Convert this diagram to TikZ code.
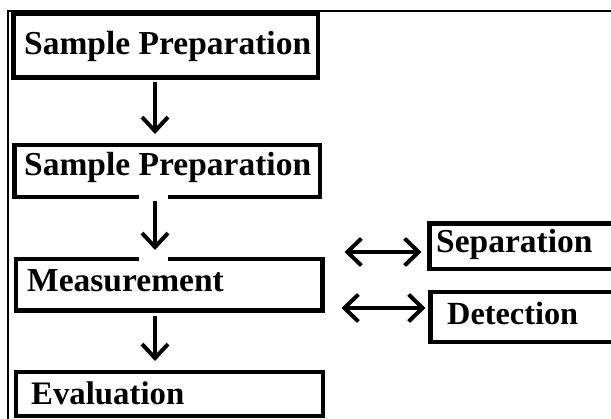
\documentclass[tikz,border=0pt]{standalone}
\usepackage{fontspec}
\setmainfont{Liberation Serif}
\usetikzlibrary{arrows.meta}
\tikzset{
  box/.style={draw=black, line width=4.2pt, fill=white, rectangle, inner sep=0pt, outer sep=0pt},
  lbl/.style={anchor=base west, inner sep=0pt, font=\fontsize{33.5}{36}\selectfont\bfseries},
  tipv/.style={-{Straight Barb[length=14pt,width=26pt,line width=4pt]}},
  arr/.style={line width=3.4pt, tipv},
  darr/.style={line width=3.4pt, {Straight Barb[length=14pt,width=27pt,line width=4pt]}-{Straight Barb[length=14pt,width=27pt,line width=4pt]}},
  frame/.style={line width=1.8pt},
  gap/.style={white, line width=7pt}
}
\begin{document}
\begin{tikzpicture}[x=1pt,y=-1pt]
\useasboundingbox (0,0) rectangle (611,419);
\clip (0,0) rectangle (611,419);
\fill[white] (0,0) rectangle (611,419);
% outer frame
\coordinate (fbl) at (8,419);
\coordinate (ftl) at (8,11);
\coordinate (ftr) at (612,11);
\draw[frame] (fbl) -- (ftl) -- (ftr);
% boxes
\node[box, minimum width=304.5pt, minimum height=64pt] (b1) at (165.75,45.5) {};
\node[box, minimum width=305.5pt, minimum height=52pt] (b2) at (167.25,171) {};
\node[box, minimum width=306.5pt, minimum height=51.5pt] (b3) at (169.25,284.75) {};
\node[box, minimum width=307pt, minimum height=44pt] (b4) at (169.5,394) {};
\node[box, minimum width=185.5pt, minimum height=45.5pt] (sep) at (522.25,246.25) {};
\node[box, minimum width=184.5pt, minimum height=50pt] (det) at (522.75,317) {};
% labels
\node[lbl] (t1) at (24,55) {Sample Preparation};
\node[lbl] (t2) at (24,176) {Sample Preparation};
\node[lbl] (t3) at (27,292) {Measurement};
\node[lbl, font=\fontsize{32.8}{36}\selectfont\bfseries] (t4) at (31,405) {Evaluation};
\node[lbl] (t5) at (436,253) {Separation};
\node[lbl, font=\fontsize{32.3}{36}\selectfont\bfseries] (t6) at (447,325) {Detection};
% arrow positions
\coordinate (ax) at (155,0);
\coordinate (g1) at (139,0);
\coordinate (g2) at (168,0);
\coordinate (a1) at (0,252);
\coordinate (a2) at (0,308);
% white gaps in borders around second arrow
\draw[gap] (b2.south -| g1) -- (b2.south -| g2);
\draw[gap] (b3.north -| g1) -- (b3.north -| g2);
% connectors
\draw[arr, shorten <=5pt, shorten >=11pt] (b1.south -| ax) -- (b2.north -| ax);
\draw[arr, shorten <=4pt, shorten >=9pt] (b2.south -| ax) -- (b3.north -| ax);
\draw[arr, shorten <=6pt, shorten >=11pt] (b3.south -| ax) -- (b4.north -| ax);
\draw[darr, shorten <=22pt, shorten >=8pt] (b3.east |- a1) -- (sep.west |- a1);
\draw[darr, shorten <=19pt, shorten >=5pt] (b3.east |- a2) -- (det.west |- a2);
\end{tikzpicture}
\end{document}
